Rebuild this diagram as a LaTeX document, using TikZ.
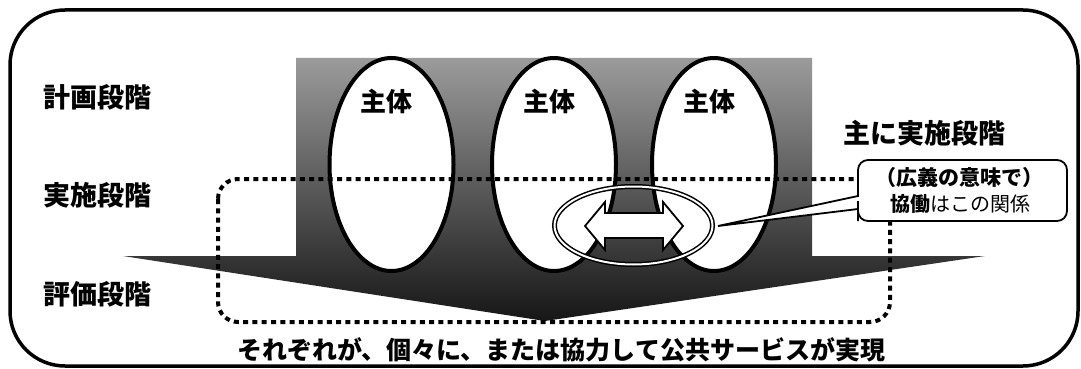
\documentclass[tikz,border=0pt]{standalone}
\usepackage{fontspec}
\setmainfont{Noto Sans CJK JP}
\usetikzlibrary{shapes.geometric}
\definecolor{gtop}{RGB}{155,155,155}
\definecolor{gbot}{RGB}{22,22,22}
\begin{document}
\begin{tikzpicture}[x=1pt,y=-1pt,
  ell/.style={ellipse, draw=black, line width=4pt, fill=white, minimum width=124pt, minimum height=213pt, inner sep=0pt},
  lab/.style={font=\fontsize{27}{30}\selectfont\bfseries, inner sep=0pt},
  sub/.style={font=\fontsize{26}{30}\selectfont\bfseries, inner sep=0pt},
  dotline/.style={line width=4pt, dash pattern=on 5pt off 4.3pt},
  callout/.style={line width=1.8pt, draw=black, fill=white},
  cotext/.style={font=\fontsize{20}{24}\selectfont, inner sep=0pt}]
\useasboundingbox (0,0) rectangle (1081,369);
% outer frame
\draw[line width=3.5pt, rounded corners=55pt] (10,10) rectangle (1078,366);
% gray shape
\shade[top color=gtop, bottom color=gbot]
  (296,58) -- (812,58) -- (812,256) -- (985,256) -- (545,321) -- (123,256) -- (296,256) -- cycle;
% subjects
\node[ell] (e1) at (391.5,164.5) {};
\node[ell] (e2) at (554,164.5) {};
\node[ell] (e3) at (714,164.5) {};
\node[sub] (t1) at (386,102) {主体};
\node[sub] (t2) at (549,102) {主体};
\node[sub] (t3) at (709,102) {主体};
% dotted region
\draw[dotline, rounded corners=20pt] (218,179) rectangle (890,322);
% collaboration ellipse and arrow
\node[ellipse, draw=black, line width=1.5pt, double=white, double distance=2pt,
      minimum width=158pt, minimum height=78pt, inner sep=0pt] (de) at (633.5,225.5) {};
\draw[line width=1.8pt, fill=white]
  (585,226) -- (605,202) -- (605,213) -- (663,213) -- (663,202) -- (683,226)
  -- (663,250) -- (663,238) -- (605,238) -- (605,250) -- cycle;
% callout
\coordinate (tip) at (718,226);
\draw[callout] (tip) -- (858,196) -- (858,194) [rounded corners=10pt] -- (858,160) -- (1067,160)
  -- (1067,221) -- (858,221) -- (858,211) [sharp corners] -- (858,209) -- cycle;
\node[cotext, font=\fontsize{21}{24}\selectfont\bfseries] (c1) at (959,178) {（広義の意味で）};
\node[cotext] (c2) at (960,204) {\textbf{協働}はこの関係};
% stage labels
\node[lab] (s1) at (97,97) {計画段階};
\node[lab] (s2) at (97,195) {実施段階};
\node[lab] (s3) at (97,294) {評価段階};
\node[lab] (s4) at (924,133) {主に実施段階};
\node[font=\fontsize{25}{30}\selectfont\bfseries, inner sep=0pt] (bt) at (561,350) {それぞれが、個々に、または協力して公共サービスが実現};
\end{tikzpicture}
\end{document}
